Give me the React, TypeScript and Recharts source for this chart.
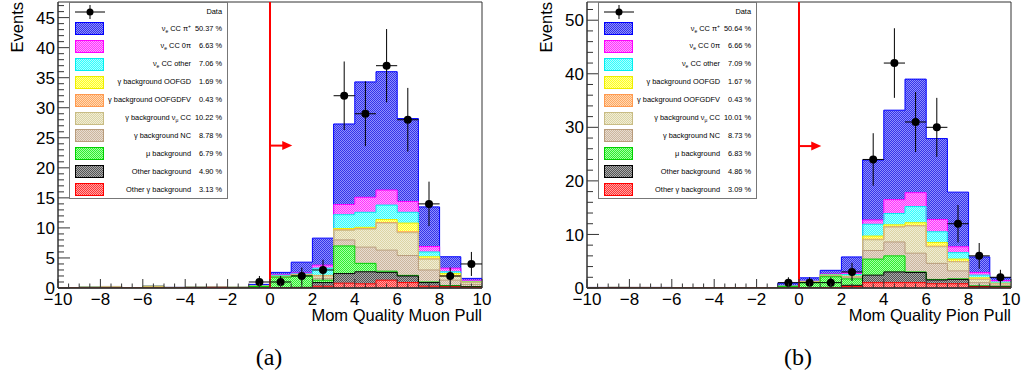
import React from 'react';
import {
  ComposedChart,
  Area,
  Line,
  Scatter,
  ErrorBar,
  XAxis,
  YAxis,
  ReferenceLine,
  ReferenceArea,
  Legend,
} from 'recharts';

// bin edges of the histograms, last edge repeats the last bin for the step
const binEdges = [-10, -9, -8, -7, -6, -5, -4, -3, -2, -1, 0, 1, 2, 3, 4, 5, 6, 7, 8, 9, 10];
const binCentres = [-0.5, 0.5, 1.5, 2.5, 3.5, 4.5, 5.5, 6.5, 7.5, 8.5, 9.5];
const halfBin = 0.5;

// stack order, bottom -> top
const compKeys = [
  'otherGamma', 'otherBg', 'muBg', 'gammaNC', 'gammaNumu',
  'oofgdfv', 'oofgd', 'nueOther', 'nue0pi', 'nuePi',
];

// ---- (a) Mom Quality Muon Pull ----
const muonOtherGamma = [0, 0, 0, 0, 0, 0, 0, 0.1, 0, 0, 0, 0, 0.3, 0.8, 0.7, 1.3, 0.9, 0.3, 0.2, 0.1];
const muonOtherBg = [0, 0, 0, 0, 0, 0, 0.1, 0, 0, 0, 0.05, 0.1, 0.6, 1.6, 2.0, 1.3, 1.1, 0.6, 0.1, 0.1];
const muonMuBg = [0, 0, 0, 0, 0, 0, 0, 0, 0.1, 0.25, 1.75, 1.9, 0.4, 4.6, 1.4, 0.2, 0.1, 0.1, 0.1, 0.05];
const muonGammaNC = [0, 0, 0.1, 0, 0, 0, 0, 0, 0, 0, 0.05, 0.1, 0.3, 1.0, 2.7, 3.5, 3.3, 2.0, 0.9, 0.35];
const muonGammaNumu = [0, 0, 0.15, 0, 0.15, 0, 0, 0, 0, 0.05, 0.05, 0.1, 0.4, 1.6, 3.0, 4.5, 3.8, 1.8, 0.6, 0.3];
const muonOofgdfv = [0, 0, 0, 0, 0, 0, 0, 0, 0, 0, 0, 0, 0.05, 0.1, 0.1, 0.1, 0.15, 0.05, 0.1, 0.05];
const muonOofgd = [0, 0.15, 0, 0, 0.15, 0.1, 0, 0, 0, 0, 0.05, 0.05, 0.05, 0.2, 0.2, 0.5, 1.45, 0.35, 0.4, 0.05];
const muonNueOther = [0, 0, 0, 0, 0, 0, 0, 0, 0, 0.1, 0.15, 0.1, 1.2, 2.3, 2.5, 2.4, 1.8, 0.8, 0.3, 0.1];
const muonNue0pi = [0, 0, 0, 0, 0, 0, 0, 0, 0, 0, 0.1, 0.15, 0.5, 1.7, 2.5, 2.5, 1.8, 0.9, 0.6, 0.2];
const muonNuePi = [0, 0, 0, 0, 0, 0, 0, 0, 0, 0.2, 0.4, 1.8, 4.5, 13.4, 19.2, 19.7, 13.8, 6.6, 1.9, 0.3];
const muonCounts = [1, 1, 2, 3, 32, 29, 37, 28, 14, 2, 4];
const muonErrors = [1, 1, 1.4, 1.7, 5.7, 5.4, 6.1, 5.3, 3.7, 1.4, 2];
const muonPercents = ['50.37 %', '6.63 %', '7.06 %', '1.69 %', '0.43 %', '10.22 %', '8.78 %', '6.79 %', '4.90 %', '3.13 %'];
const muonYLabels = [0, 5, 10, 15, 20, 25, 30, 35, 40, 45];

// ---- (b) Mom Quality Pion Pull ----
const pionOtherGamma = [0, 0, 0, 0, 0, 0, 0, 0, 0, 0, 0, 0.05, 0.3, 1.0, 1.0, 1.0, 0.8, 0.8, 0.2, 0.1];
const pionOtherBg = [0, 0.1, 0, 0, 0, 0, 0, 0, 0, 0, 0.05, 0.05, 0.2, 1.4, 2.0, 1.9, 0.7, 0.8, 0.1, 0.1];
const pionMuBg = [0, 0, 0, 0, 0, 0, 0, 0, 0, 0.3, 0.95, 2.0, 1.2, 3.0, 3.0, 0.1, 0.1, 0.1, 0.1, 0.1];
const pionGammaNC = [0, 0, 0, 0, 0, 0, 0, 0, 0, 0, 0.05, 0.1, 0.2, 1.6, 2.6, 3.5, 3.0, 1.5, 0.6, 0.2];
const pionGammaNumu = [0, 0, 0.1, 0, 0, 0, 0, 0, 0, 0, 0.1, 0.1, 0.2, 2.0, 2.8, 5.1, 3.1, 1.7, 0.6, 0.3];
const pionOofgdfv = [0, 0, 0, 0, 0, 0, 0, 0, 0, 0, 0, 0.05, 0.05, 0.1, 0.05, 0.05, 0.1, 0.05, 0.05, 0];
const pionOofgd = [0.1, 0, 0, 0.1, 0, 0, 0, 0, 0, 0, 0.05, 0.05, 0.05, 0.6, 0.35, 0.55, 0.7, 0.45, 0.25, 0.1];
const pionNueOther = [0, 0, 0, 0, 0, 0, 0, 0, 0, 0.1, 0.1, 0.1, 0.3, 2.2, 2.1, 3.0, 2.0, 1.2, 0.5, 0.2];
const pionNue0pi = [0, 0, 0, 0, 0, 0, 0, 0, 0, 0, 0.1, 0.1, 0.3, 0.8, 2.6, 2.6, 2.3, 1.1, 0.5, 0.3];
const pionNuePi = [0, 0, 0, 0, 0, 0, 0, 0, 0, 0.5, 0.5, 0.7, 3.0, 11.2, 16.7, 21.2, 15.1, 10.2, 2.9, 0.5];
const pionCounts = [1, 1, 1, 3, 24, 42, 31, 30, 12, 6, 2];
const pionErrors = [1, 1, 1, 1.7, 4.9, 6.5, 5.6, 5.5, 3.5, 2.4, 1.4];
const pionPercents = ['50.64 %', '6.66 %', '7.09 %', '1.67 %', '0.43 %', '10.01 %', '8.73 %', '6.83 %', '4.86 %', '3.09 %'];
const pionYLabels = [0, 10, 20, 30, 40, 50];

const subStyle: React.CSSProperties = { fontSize: 5, lineHeight: 0, verticalAlign: '-1.5px' };
const supStyle: React.CSSProperties = { fontSize: 5, lineHeight: 0, verticalAlign: '3px' };

// legend, top -> bottom
const legendKeys = ['nuePi', 'nue0pi', 'nueOther', 'oofgd', 'oofgdfv', 'gammaNumu', 'gammaNC', 'muBg', 'otherBg', 'otherGamma'];
const legendLabels: Record<string, React.ReactNode> = {
  nuePi: <>ν<span style={subStyle}>e</span> CC π<span style={supStyle}>+</span></>,
  nue0pi: <>ν<span style={subStyle}>e</span> CC 0π</>,
  nueOther: <>ν<span style={subStyle}>e</span> CC other</>,
  oofgd: <>γ background OOFGD</>,
  oofgdfv: <>γ background OOFGDFV</>,
  gammaNumu: <>γ background ν<span style={subStyle}>μ</span> CC</>,
  gammaNC: <>γ background NC</>,
  muBg: <>μ background</>,
  otherBg: <>Other background</>,
  otherGamma: <>Other γ background</>,
};

// [dark dot, light dot, outline]
const colours: Record<string, [string, string, string]> = {
  nuePi: ['#3434e8', '#8e8eff', '#0000ff'],
  nue0pi: ['#ff30ff', '#ffa4ff', '#ff00ff'],
  nueOther: ['#30ffff', '#aaffff', '#00eeee'],
  oofgd: ['#ffff20', '#ffffa0', '#eeee00'],
  oofgdfv: ['#ffa860', '#ffd8b4', '#ff9a50'],
  gammaNumu: ['#dcd4a4', '#f0edd6', '#c8bc84'],
  gammaNC: ['#ccb69e', '#e8dcd0', '#b89c7c'],
  muBg: ['#30ee30', '#a4ffa4', '#00d000'],
  otherBg: ['#545454', '#ababab', '#000000'],
  otherGamma: ['#ff3434', '#ffa4a4', '#ff0000'],
};

const FONT = '"Liberation Sans", Arial, Helvetica, sans-serif';
const AXIS = '#333';

type PanelProps = {
  id: string;
  title: string;
  stack: Record<string, number[]>;
  counts: number[];
  errors: number[];
  percents: string[];
  yMax: number;
  yLabels: number[];
  yMinorStep: number;
  arrowY: number;
};

const Panel: React.FC<PanelProps> = ({ id, title, stack, counts, errors, percents, yMax, yLabels, yMinorStep, arrowY }) => {
  const rows = binEdges.map((x, i) => {
    const row: Record<string, number> = { x };
    compKeys.forEach((k) => {
      row[k] = stack[k][Math.min(i, stack[k].length - 1)];
    });
    return row;
  });
  const points = binCentres.map((x, i) => ({ x, y: counts[i], ex: halfBin, ey: errors[i] }));

  // outline of each stacked histogram (drawn top one first, like THStack)
  const stackTop = (idx: number) => (row: Record<string, number>) =>
    compKeys.slice(0, idx + 1).reduce((s, k) => s + row[k], 0);
  const outlineOrder = compKeys.map((k, i) => ({ k, i })).reverse();

  const xTicks: number[] = [];
  for (let v = -20; v <= 20; v++) xTicks.push(v / 2);
  const yTicks: number[] = [];
  for (let v = 0; v <= yMax; v += yMinorStep) yTicks.push(v);

  const renderXTick = (p: any) => {
    const v = p.payload.value as number;
    const ay = p.y - 4;
    const major = Number.isInteger(v) && v % 2 === 0;
    return (
      <g>
        <line x1={p.x} x2={p.x} y1={ay} y2={ay - (major ? 9 : 4.5)} stroke={AXIS} />
        {major && (
          <text x={p.x} y={ay + 16.5} textAnchor="middle" fontSize={17} fontFamily={FONT} fill="#000">
            {v < 0 ? `\u2212${-v}` : v}
          </text>
        )}
      </g>
    );
  };

  const renderYTick = (p: any) => {
    const v = p.payload.value as number;
    const ax = p.x + 3;
    const major = yLabels.includes(v);
    return (
      <g>
        <line x1={ax} x2={ax + (major ? 12 : 6)} y1={p.y} y2={p.y} stroke={AXIS} />
        {major && (
          <text x={p.x} y={p.y} dy="0.36em" textAnchor="end" fontSize={17} fontFamily={FONT} fill="#000">
            {v}
          </text>
        )}
      </g>
    );
  };

  const arrowShape = (p: any) => {
    const { x1, y1, x2 } = p;
    return (
      <g>
        <line x1={x1} y1={y1} x2={x2 - 8} y2={y1} stroke="#ff0000" strokeWidth={2} />
        <polygon points={`${x2},${y1} ${x2 - 10},${y1 - 4.5} ${x2 - 10},${y1 + 4.5}`} fill="#ff0000" />
      </g>
    );
  };

  const renderLegend = () => (
    <div
      style={{
        width: 159,
        height: 197,
        boxSizing: 'border-box',
        border: '1px solid #777',
        background: '#fff',
        position: 'relative',
        fontFamily: FONT,
        fontSize: 7.4,
        color: '#000',
      }}
    >
      <svg width={30} height={16} style={{ position: 'absolute', left: 5, top: 1 }}>
        <line x1={0} x2={30} y1={8} y2={8} stroke="#000" />
        <line x1={15} x2={15} y1={1} y2={15} stroke="#000" />
        <circle cx={15} cy={8} r={3.5} fill="#000" />
      </svg>
      <span style={{ position: 'absolute', right: 5, top: 4, lineHeight: '10px' }}>Data</span>
      {legendKeys.map((k, i) => {
        const cy = 25.5 + i * 17.9;
        const c = colours[k];
        return (
          <React.Fragment key={k}>
            <svg width={29} height={13} style={{ position: 'absolute', left: 5, top: cy - 6.5 }}>
              <rect x={0.5} y={0.5} width={28} height={12} fill={`url(#${id}-${k})`} stroke={c[2]} />
            </svg>
            <span style={{ position: 'absolute', right: 36, top: cy - 5, lineHeight: '10px', whiteSpace: 'nowrap' }}>
              {legendLabels[k]}
            </span>
            <span style={{ position: 'absolute', right: 5, top: cy - 5, lineHeight: '10px', whiteSpace: 'nowrap' }}>
              {percents[i]}
            </span>
          </React.Fragment>
        );
      })}
    </div>
  );

  return (
    <ComposedChart width={512} height={340} data={rows} margin={{ top: 2, right: 30, bottom: 0, left: 0 }}>
      <defs>
        {compKeys.map((k) => (
          <pattern key={k} id={`${id}-${k}`} width={2} height={2} patternUnits="userSpaceOnUse">
            <rect width={2} height={2} fill={colours[k][1]} />
            <rect width={1} height={1} fill={colours[k][0]} />
            <rect x={1} y={1} width={1} height={1} fill={colours[k][0]} />
          </pattern>
        ))}
      </defs>
      <XAxis
        type="number"
        dataKey="x"
        domain={[-10, 10]}
        allowDataOverflow
        ticks={xTicks}
        interval={0}
        tickSize={0}
        tickMargin={4}
        tickLine={false}
        tick={renderXTick}
        axisLine={{ stroke: AXIS }}
        height={52}
        label={{
          content: (lp: any) => (
            <text
              x={lp.viewBox.x + lp.viewBox.width}
              y={lp.viewBox.y + 33}
              textAnchor="end"
              fontSize={16.5}
              fontFamily={FONT}
              fill="#000"
            >
              {title}
            </text>
          ),
        }}
      />
      <YAxis
        type="number"
        domain={[0, yMax]}
        allowDataOverflow
        ticks={yTicks}
        interval={0}
        tickSize={0}
        tickMargin={3}
        tickLine={false}
        tick={renderYTick}
        axisLine={{ stroke: AXIS }}
        width={58}
        label={{
          content: (lp: any) => (
            <text
              x={23}
              y={lp.viewBox.y}
              transform={`rotate(-90, 23, ${lp.viewBox.y})`}
              textAnchor="end"
              fontSize={16.5}
              fontFamily={FONT}
              fill="#000"
            >
              Events
            </text>
          ),
        }}
      />
      {compKeys.map((k) => (
        <Area
          key={k}
          type="stepAfter"
          dataKey={k}
          stackId="mc"
          fill={`url(#${id}-${k})`}
          fillOpacity={1}
          stroke="none"
          isAnimationActive={false}
          dot={false}
          activeDot={false}
        />
      ))}
      {outlineOrder.map(({ k, i }) => (
        <Line
          key={`line-${k}`}
          type="stepAfter"
          dataKey={stackTop(i)}
          stroke={colours[k][2]}
          strokeWidth={1}
          dot={false}
          activeDot={false}
          legendType="none"
          isAnimationActive={false}
        />
      ))}
      <ReferenceLine y={0} stroke={AXIS} />
      <ReferenceLine x={0} stroke="#ff0000" strokeWidth={2} />
      <ReferenceLine
        segment={[
          { x: 0, y: arrowY },
          { x: 1.05, y: arrowY },
        ]}
        shape={arrowShape}
      />
      <Scatter
        data={points}
        dataKey="y"
        isAnimationActive={false}
        shape={(p: any) => <circle cx={p.cx} cy={p.cy} r={4} fill="#000" />}
      >
        <ErrorBar dataKey="ey" direction="y" width={0} stroke="#000" strokeWidth={1} isAnimationActive={false} />
        <ErrorBar dataKey="ex" direction="x" width={0} stroke="#000" strokeWidth={1} isAnimationActive={false} />
      </Scatter>
      <ReferenceArea x1={-10} x2={10} y1={0} y2={yMax} fill="none" fillOpacity={0} stroke={AXIS} strokeWidth={1} />
      <Legend
        layout="vertical"
        align="center"
        verticalAlign="middle"
        wrapperStyle={{ left: 69, top: 2, width: 159, height: 197 }}
        content={renderLegend}
      />
    </ComposedChart>
  );
};

const muonStack = {
  otherGamma: muonOtherGamma, otherBg: muonOtherBg, muBg: muonMuBg, gammaNC: muonGammaNC,
  gammaNumu: muonGammaNumu, oofgdfv: muonOofgdfv, oofgd: muonOofgd, nueOther: muonNueOther,
  nue0pi: muonNue0pi, nuePi: muonNuePi,
};
const pionStack = {
  otherGamma: pionOtherGamma, otherBg: pionOtherBg, muBg: pionMuBg, gammaNC: pionGammaNC,
  gammaNumu: pionGammaNumu, oofgdfv: pionOofgdfv, oofgd: pionOofgd, nueOther: pionNueOther,
  nue0pi: pionNue0pi, nuePi: pionNuePi,
};

const captionStyle: React.CSSProperties = {
  position: 'absolute',
  top: 340,
  width: 60,
  textAlign: 'center',
  fontFamily: '"Liberation Serif", "DejaVu Serif", serif',
  fontSize: 24,
  lineHeight: '34px',
  color: '#000',
};

export default function App() {
  return (
    <div style={{ position: 'absolute', left: 0, top: 0, width: 1024, height: 376, background: '#fff', overflow: 'hidden' }}>
      <div style={{ position: 'absolute', left: 0, top: 0 }}>
        <Panel
          id="muon"
          title="Mom Quality Muon Pull"
          stack={muonStack}
          counts={muonCounts}
          errors={muonErrors}
          percents={muonPercents}
          yMax={47.6}
          yLabels={muonYLabels}
          yMinorStep={1}
          arrowY={23.7}
        />
      </div>
      <div style={{ position: 'absolute', left: 529, top: 0 }}>
        <Panel
          id="pion"
          title="Mom Quality Pion Pull"
          stack={pionStack}
          counts={pionCounts}
          errors={pionErrors}
          percents={pionPercents}
          yMax={53.4}
          yLabels={pionYLabels}
          yMinorStep={2}
          arrowY={26.5}
        />
      </div>
      <div style={{ ...captionStyle, left: 239 }}>(a)</div>
      <div style={{ ...captionStyle, left: 768 }}>(b)</div>
    </div>
  );
}
